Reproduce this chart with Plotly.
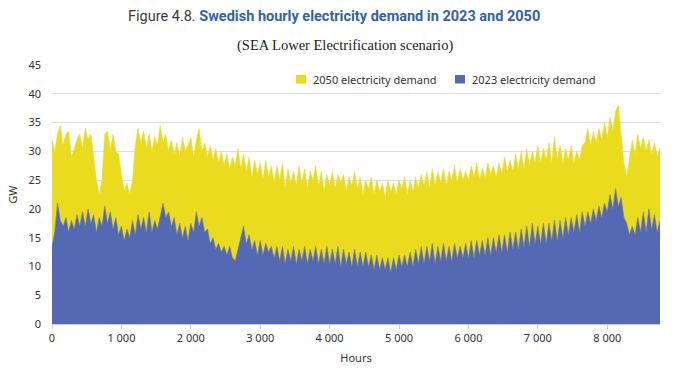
import plotly.graph_objects as go

# Hour positions of the sampled readings (every 40 hours through the year)
hours = list(range(0, 8761, 40))

# 2050 electricity demand, GW; each row = 400 hours
demand_2050 = [
    32, 30, 33, 34.5, 31, 33, 33.5, 29, 30.5, 32,
    33, 30.5, 34, 32, 33, 29, 25, 22.5, 25, 33,
    33.5, 30, 33, 30, 29.5, 26, 23, 24.5, 22.5, 25,
    31, 34, 31.5, 33.5, 30.5, 33, 30, 32.5, 31, 34.5,
    31.5, 33, 30, 32, 29.5, 31.5, 29, 32.5, 30, 31,
    32.5, 29, 32, 34, 30, 31.5, 29, 31, 28.5, 30.5,
    28, 30, 27.5, 29.5, 27, 29, 27.5, 30.5, 27, 29.5,
    26.5, 29, 25.5, 28.5, 26, 28, 25, 28.5, 25.5, 27.5,
    24.5, 27.5, 25, 28, 23.5, 27, 24.5, 26.5, 24, 27.5,
    24.5, 27, 23.5, 26.5, 25, 27.5, 24, 26.5, 23, 26,
    24, 26.5, 23.5, 26, 24.5, 26, 23, 25.5, 24, 26.5,
    23.5, 25.5, 22.5, 25, 23.5, 25.5, 22.5, 25, 23, 24.5,
    22, 25, 23, 24.5, 22.5, 25, 23.5, 25.5, 22.5, 25,
    23, 25.5, 23.5, 26, 24, 26.5, 23.5, 27, 24, 26.5,
    24.5, 27, 24, 26.5, 25, 27.5, 24.5, 27, 25, 26.5,
    25, 27.5, 25.5, 28, 25, 27, 25.5, 28, 26, 27.5,
    25.5, 28, 26, 29, 26.5, 28.5, 26.5, 29.5, 27, 30,
    27, 30.5, 27.5, 30, 28, 31, 28, 30.5, 28.5, 31.5,
    28, 32.5, 28.5, 31, 28, 30.5, 28.5, 31, 28, 30,
    28.5, 31, 31.5, 34, 31, 33.5, 31.5, 34, 32, 35,
    32.5, 36, 33.5, 37, 38, 33, 28, 25.5, 29, 32,
    29.5, 33, 30.5, 32.5, 30, 32, 29.5, 31.5, 29, 30.5,
]

# 2023 electricity demand, GW; each row = 400 hours
demand_2023 = [
    13.5, 16, 21, 18, 17, 18.5, 16, 18, 16.5, 19,
    17, 19.5, 17, 20, 17.5, 19, 16, 18.5, 17, 20.5,
    17.5, 19.5, 16.5, 18.5, 15.5, 17, 14.5, 16.5, 15, 18,
    15.5, 19, 16.5, 18.5, 16, 19.5, 16, 18, 16.5, 18.5,
    21, 18.5, 19.5, 17, 18.5, 15.5, 17.5, 15, 17, 14.5,
    17.5, 16, 19.5, 17, 18.5, 16, 16.5, 14, 15, 13,
    14, 12.5, 13.5, 12, 13.5, 11.5, 11, 13, 15, 17,
    14, 15.5, 13, 14.5, 12, 14.5, 12, 14, 12.5, 13.5,
    11.5, 13.5, 11, 13.5, 10.5, 13, 11, 13.5, 10.5, 13,
    11, 13.5, 10.5, 13, 11, 13.5, 10.5, 13, 10.5, 13.5,
    10.5, 13, 10.5, 13.5, 10, 13, 10.5, 12.5, 10, 13,
    10, 12.5, 10, 12.5, 10, 12, 9.5, 12, 9.5, 11.5,
    9.5, 11.5, 9, 11.5, 9.5, 12, 10, 12, 10, 12.5,
    10, 13, 10.5, 13.5, 10.5, 13.5, 11, 14, 10.5, 13.5,
    11, 14, 11, 13.5, 11, 14, 11.5, 13.5, 11.5, 14,
    11.5, 14.5, 11.5, 14.5, 12, 14.5, 12, 15, 12, 15,
    12.5, 15.5, 12.5, 15.5, 12.5, 16, 13, 16, 13, 16.5,
    13.5, 17, 13.5, 17.5, 14, 17, 14, 17.5, 14, 17.5,
    14.5, 18, 14.5, 18, 15, 18.5, 15.5, 18.5, 16, 19,
    16, 19.5, 17, 19.5, 17.5, 20, 18, 20.5, 18.5, 21,
    19.5, 22.5, 20, 23.5, 20.5, 22, 18.5, 17.5, 15.5, 17,
    15.5, 18.5, 16, 19.5, 16, 20, 16.5, 19, 16, 18,
]

x_tick_vals = [0, 1000, 2000, 3000, 4000, 5000, 6000, 7000, 8000]
x_tick_text = ["0", "1 000", "2 000", "3 000", "4 000", "5 000", "6 000", "7 000", "8 000"]
y_tick_vals = [0, 5, 10, 15, 20, 25, 30, 35, 40, 45]

series_names = ["2050 electricity demand", "2023 electricity demand"]
YELLOW = "#EBDB1F"
BLUE = "#5468B4"

assert len(hours) == len(demand_2050) == len(demand_2023)

fig = go.Figure()
fig.add_trace(go.Scatter(
    x=hours, y=demand_2050, mode="lines", fill="tozeroy",
    line=dict(color=YELLOW, width=0.5), fillcolor=YELLOW,
    name=series_names[0], showlegend=False, hoverinfo="skip",
))
fig.add_trace(go.Scatter(
    x=hours, y=demand_2023, mode="lines", fill="tozeroy",
    line=dict(color="#75808A", width=0.6), fillcolor=BLUE,
    name=series_names[1], showlegend=False, hoverinfo="skip",
))

font_fam = "Noto Sans, Open Sans, sans-serif"

plot_top, plot_bottom, plot_left, plot_right = 65, 324, 52, 660
ph = plot_bottom - plot_top
pw = plot_right - plot_left


def py(pix):
    return (plot_bottom - pix) / ph


def px(pix):
    return (pix - plot_left) / pw


fig.update_layout(
    width=700, height=379,
    margin=dict(l=plot_left, r=700 - plot_right, t=plot_top, b=379 - plot_bottom),
    paper_bgcolor="white", plot_bgcolor="white",
    font=dict(family=font_fam, size=11, color="#333333"),
    xaxis=dict(
        range=[0, 8760], tickmode="array", tickvals=x_tick_vals, ticktext=x_tick_text,
        showgrid=False, zeroline=False, showline=True, linecolor="#cfcfcf", linewidth=1,
        ticks="outside", ticklen=4, tickcolor="#cfcfcf",
        tickfont=dict(size=11, color="#333333"),
        title=dict(text="Hours", font=dict(size=11, color="#333333"), standoff=10),
    ),
    yaxis=dict(
        range=[0, 45], tickmode="array", tickvals=y_tick_vals,
        showgrid=True, gridcolor="#dedede", gridwidth=1, zeroline=False,
        showline=False, ticks="", ticklabelstandoff=10,
        tickfont=dict(size=11, color="#333333"),
        title=dict(text="GW", font=dict(size=11, color="#333333"), standoff=8),
    ),
    annotations=[
        dict(text="Figure 4.8. <b><span style='color:#3462A8'>Swedish hourly electricity demand in 2023 and 2050</span></b>",
             x=px(334), xref="paper", y=py(17), yref="paper", yanchor="middle", showarrow=False,
             font=dict(family="Roboto, sans-serif", size=14.5, color="#3a3a3a")),
        dict(text="(SEA Lower Electrification scenario)",
             x=px(345), xref="paper", y=py(46), yref="paper", yanchor="middle", showarrow=False,
             font=dict(family="Liberation Serif, serif", size=14.5, color="#222222")),
        dict(text=series_names[0], x=px(311), y=py(79), xref="paper", yref="paper", showarrow=False,
             xanchor="left", yanchor="middle", font=dict(size=11, color="#333333")),
        dict(text=series_names[1], x=px(470), y=py(79), xref="paper", yref="paper", showarrow=False,
             xanchor="left", yanchor="middle", font=dict(size=11, color="#333333")),
    ],
    shapes=[
        dict(type="rect", xref="paper", yref="paper", x0=px(296), x1=px(306), y0=py(83.5), y1=py(75),
             fillcolor=YELLOW, line=dict(width=0)),
        dict(type="rect", xref="paper", yref="paper", x0=px(455), x1=px(465), y0=py(83.5), y1=py(75),
             fillcolor=BLUE, line=dict(width=0)),
    ],
)

fig.write_html("out.html")
